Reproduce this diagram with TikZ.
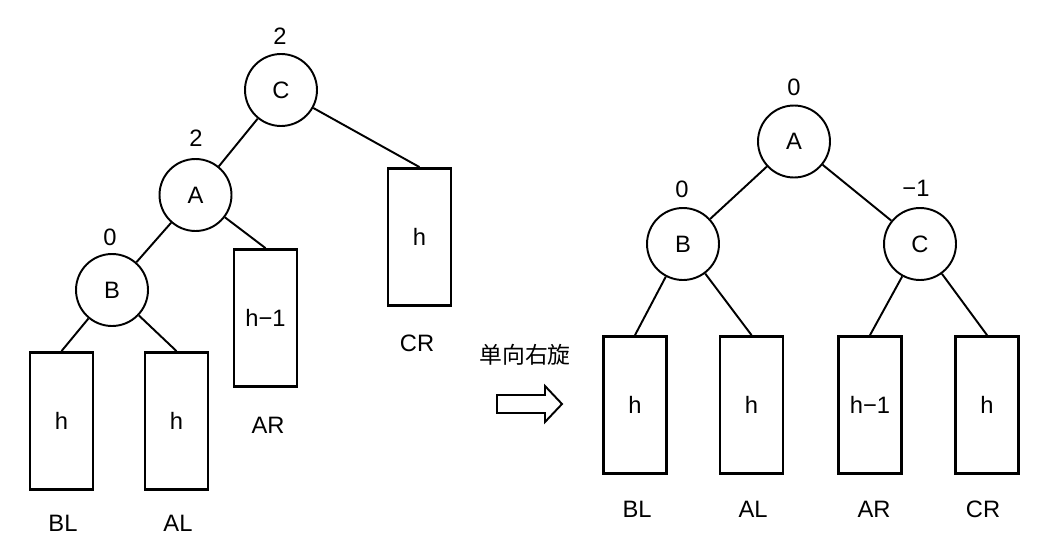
\documentclass[tikz,border=0pt]{standalone}
\usepackage{fontspec}
\setmainfont{Liberation Sans}
\newfontfamily\cjk{Noto Sans CJK SC}
\usepackage{tikz}

\begin{document}
\begin{tikzpicture}[x=0.02cm, y=-0.02cm,
    every node/.style={font=\fontsize{13.5}{16}\selectfont},
    bnode/.style={circle, draw, line width=1.1pt, minimum size=1.44cm, inner sep=0pt},
    subtree/.style={rectangle, draw, line width=1.6pt, minimum width=1.26cm, minimum height=2.74cm, inner sep=0pt}]

    \useasboundingbox (0,0) rectangle (1054,554);

    % before the rotation
    \node[bnode] (c1) at (281,90) {C};
    \node[bnode] (a1) at (195.5,195) {A};
    \node[bnode] (b1) at (112,290) {B};

    \node[subtree] (bl1) at (61.5,421) {h};
    \node[subtree] (al1) at (176.5,421) {h};
    \node[subtree] (ar1) at (265.5,318) {h−1};
    \node[subtree] (cr1) at (419.5,237) {h};

    \node[] (fc1) at (280,36) {2};
    \node[] (fa1) at (196,138) {2};
    \node[] (fb1) at (110,237) {0};

    \node[] (tbl1) at (63,523) {BL};
    \node[] (tal1) at (178,523) {AL};
    \node[] (tar1) at (268,425) {AR};
    \node[] (tcr1) at (417,343) {CR};

    % rotation arrow
    \node[font=\cjk\fontsize{13}{16}\selectfont] (turntxt) at (525,355) {单向右旋};
    \draw[line width=1.1pt, line join=miter]
        (497,395) -- (545,395) -- (545,386) -- (562,404)
        -- (545,422) -- (545,413) -- (497,413) -- cycle;

    % after the rotation
    \node[bnode] (a2) at (794,141.5) {A};
    \node[bnode] (b2) at (683,244) {B};
    \node[bnode] (c2) at (920,244) {C};

    \node[subtree] (bl2) at (635,405) {h};
    \node[subtree] (al2) at (751.5,405) {h};
    \node[subtree] (ar2) at (870,405) {h−1};
    \node[subtree] (cr2) at (987,405) {h};

    \node[] (fa2) at (794,87) {0};
    \node[] (fb2) at (682,189) {0};
    \node[] (fc2) at (916,188) {−1};

    \node[] (tbl2) at (637,509) {BL};
    \node[] (tal2) at (753,509) {AL};
    \node[] (tar2) at (874,509) {AR};
    \node[] (tcr2) at (983,509) {CR};

    \path[every edge/.style={draw, line width=1.1pt}]
    %left tree
    (c1) edge [] (a1)
    (c1) edge [] (cr1.north)
    (a1) edge [] (b1)
    (a1) edge [] (ar1.north)
    (b1) edge [] (bl1.north)
    (b1) edge [] (al1.north)
    %right tree
    (a2) edge [] (b2)
    (a2) edge [] (c2)
    (b2) edge [] (bl2.north)
    (b2) edge [] (al2.north)
    (c2) edge [] (ar2.north)
    (c2) edge [] (cr2.north);

\end{tikzpicture}
\end{document}
